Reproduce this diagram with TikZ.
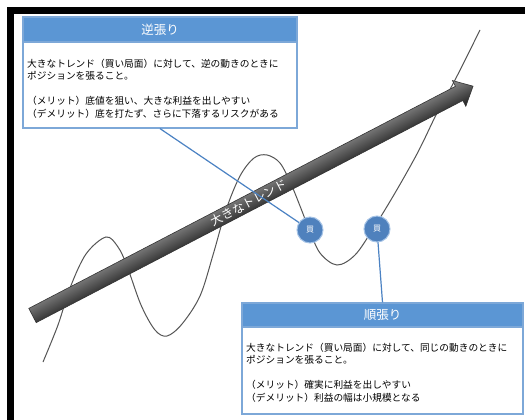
\documentclass[tikz,border=0pt]{standalone}
\usepackage{fontspec}
\setmainfont{Noto Sans CJK JP}
\definecolor{titleblue}{RGB}{91,150,212}
\definecolor{borderblue}{RGB}{125,168,216}
\definecolor{connblue}{RGB}{75,130,195}
\definecolor{buyblue}{RGB}{79,129,189}
\definecolor{buyrim}{RGB}{165,195,230}
\definecolor{wavegray}{RGB}{85,85,85}
\begin{document}
\begin{tikzpicture}[x=1pt,y=-1pt,
 box/.style={draw=borderblue, line width=1.2pt, fill=white, rectangle, inner sep=0pt},
 titlebar/.style={fill=titleblue, draw=borderblue, line width=1.2pt, text=white, font=\fontsize{12.5}{14}\selectfont, inner sep=0pt, anchor=north},
 boxtext/.style={anchor=north west, align=left, inner sep=0pt, font=\fontsize{9.7}{12.5}\selectfont},
 buy/.style={circle, fill=buyblue, draw=buyrim, line width=1pt, minimum size=26pt, inner sep=0pt, text=white, font=\fontsize{8}{8}\selectfont},
 wave/.style={draw=wavegray, line width=1pt},
 conn/.style={draw=connblue, line width=1.2pt},
]
\useasboundingbox[fill=white] (0,0) rectangle (525,420);
% black frame edges
\fill[black] (7,7) rectangle (525,14);
\fill[black] (7,7) rectangle (14,420);

% price wave
\draw[wave] plot[smooth, tension=0.55] coordinates {
 (43,362) (58,325) (70,288) (86,254) (106,237) (118,247) (127,266)
 (141,305) (155,330) (167,336) (182,324) (200,296) (213,255) (226,210)
 (240,176) (254,158) (267,155) (280,163) (291,184) (300,206) (309,229)
 (320,253) (337,265) (355,255) (373,229) (395,193) (418,152) (437,113)
 (455,80) (480,30)};

% big trend arrow
\begin{scope}[transform canvas={shift={(32.5,315.5)}, rotate=27.5}]
 \shade[top color=black!45, bottom color=black!88, draw=black!80, line width=0.6pt]
  (0,-8) -- (481,-8) -- (481,-14.5) -- (496.7,0) -- (481,14.5) -- (481,8) -- (0,8) -- cycle;
\end{scope}
\node[text=white, font=\fontsize{12}{12}\selectfont, inner sep=0pt, rotate=27.5] (trend) at (248.9,202.7) {大きなトレンド};

% boxes
\node[box, minimum width=274pt, minimum height=111pt] (top) at (160,72.5) {};
\node[titlebar, minimum width=274pt, minimum height=25pt] (toptitle) at (top.north) {逆張り};
\node[boxtext] (toptext) at (27,58.5) {大きなトレンド（買い局面）に対して、逆の動きのときに\\ポジションを張ること。\\[12.5pt]（メリット）底値を狙い、大きな利益を出しやすい\\（デメリット）底を打たず、さらに下落するリスクがある};

\node[box, minimum width=281pt, minimum height=111pt] (bot) at (382.5,358.5) {};
\node[titlebar, minimum width=281pt, minimum height=24pt] (bottitle) at (bot.north) {順張り};
\node[boxtext] (bottext) at (246,342.5) {大きなトレンド（買い局面）に対して、同じの動きのときに\\ポジションを張ること。\\[12.5pt]（メリット）確実に利益を出しやすい\\（デメリット）利益の幅は小規模となる};

% connectors
\coordinate (b1c) at (310,230);
\coordinate (b2c) at (377,229);
\draw[conn] (top.south) -- (b1c);
\draw[conn] (b2c) -- (bottitle.north);

% buy markers
\node[buy] (b1) at (b1c) {買};
\node[buy] (b2) at (b2c) {買};
\end{tikzpicture}
\end{document}
